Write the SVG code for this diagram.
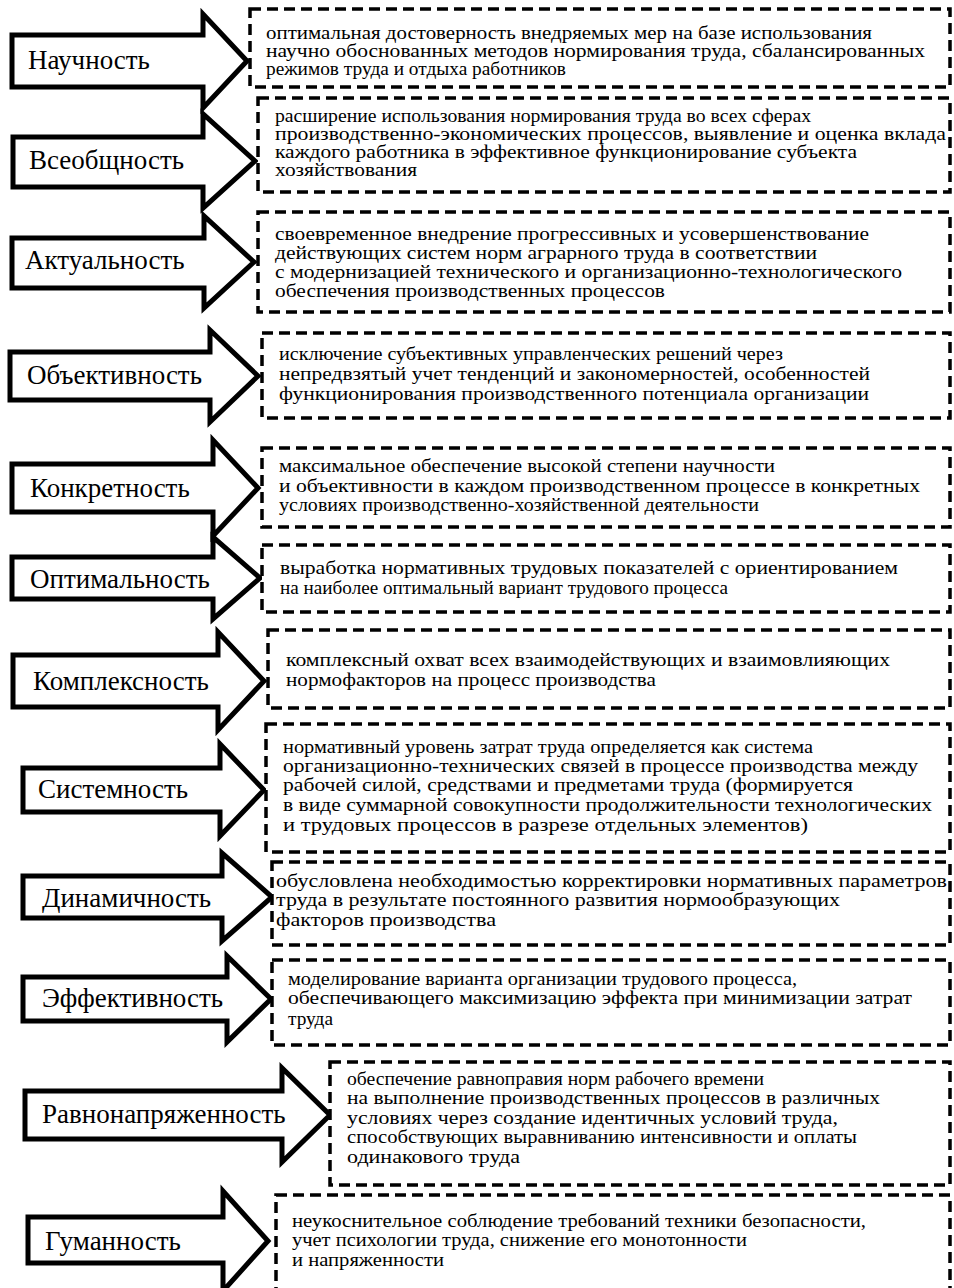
<svg xmlns="http://www.w3.org/2000/svg" width="954" height="1288" viewBox="0 0 954 1288">
<style>
.arrow{fill:#fff;stroke:#000;stroke-width:5;stroke-linejoin:miter;stroke-miterlimit:10}
.box{fill:#fff;stroke:#000;stroke-width:3.5;stroke-dasharray:11 6}
.lbl{font-family:"Liberation Serif","Times New Roman",serif;font-size:27px;fill:#000}
.txt{font-family:"Liberation Serif","Times New Roman",serif;font-size:18px;fill:#000}
</style>
<rect width="954" height="1288" fill="#fff"/>
<g id="connectors">
<polygon class="arrow" points="12,35 203,35 203,14 247,61 203,108 203,87 12,87"/>
<polygon class="arrow" points="13,137 203,137 203,114 255,161 203,208 203,187 13,187"/>
<polygon class="arrow" points="12,238 204,238 204,216 254,262 204,308 204,288 12,288"/>
<polygon class="arrow" points="10,352 210,352 210,330 258,376 210,422 210,400 10,400"/>
<polygon class="arrow" points="12,464 213,464 213,440 258,488 213,536 213,512 12,512"/>
<polygon class="arrow" points="12,557 213,557 213,537 260,578 213,619 213,599 12,599"/>
<polygon class="arrow" points="13,655 218,655 218,632 264,681 218,730 218,707 13,707"/>
<polygon class="arrow" points="23,768 220,768 220,744 264,790 220,836 220,812 23,812"/>
<polygon class="arrow" points="23,876 222,876 222,853 272,897 222,941 222,918 23,918"/>
<polygon class="arrow" points="23,977 227,977 227,956 271,999 227,1042 227,1021 23,1021"/>
<polygon class="arrow" points="25,1091 282,1091 282,1068 330,1115 282,1162 282,1139 25,1139"/>
<polygon class="arrow" points="28,1217 223,1217 223,1191 268,1241 223,1291 223,1263 28,1263"/>
</g>
<g id="n1"><text class="lbl" x="28" y="69">Научность</text>
<rect class="box" x="250" y="9" width="700" height="78"/>
<text class="txt" x="266" y="39" textLength="606" lengthAdjust="spacingAndGlyphs">оптимальная достоверность внедряемых мер на базе использования</text>
<text class="txt" x="266" y="57" textLength="659" lengthAdjust="spacingAndGlyphs">научно обоснованных методов нормирования труда, сбалансированных</text>
<text class="txt" x="266" y="75" textLength="300" lengthAdjust="spacingAndGlyphs">режимов труда и отдыха работников</text></g>
<g id="n2"><text class="lbl" x="29" y="169">Всеобщность</text>
<rect class="box" x="258" y="98" width="692" height="94"/>
<text class="txt" x="275" y="122" textLength="536" lengthAdjust="spacingAndGlyphs">расширение использования нормирования труда во всех сферах</text>
<text class="txt" x="275" y="140" textLength="671" lengthAdjust="spacingAndGlyphs">производственно-экономических процессов, выявление и оценка вклада</text>
<text class="txt" x="275" y="158" textLength="582" lengthAdjust="spacingAndGlyphs">каждого работника в эффективное функционирование субъекта</text>
<text class="txt" x="275" y="176" textLength="142" lengthAdjust="spacingAndGlyphs">хозяйствования</text></g>
<g id="n3"><text class="lbl" x="25" y="269">Актуальность</text>
<rect class="box" x="258" y="212" width="692" height="100"/>
<text class="txt" x="275" y="240" textLength="594" lengthAdjust="spacingAndGlyphs">своевременное внедрение прогрессивных и усовершенствование</text>
<text class="txt" x="275" y="259" textLength="542" lengthAdjust="spacingAndGlyphs">действующих систем норм аграрного труда в соответствии</text>
<text class="txt" x="275" y="278" textLength="627" lengthAdjust="spacingAndGlyphs">с модернизацией технического и организационно-технологического</text>
<text class="txt" x="275" y="297" textLength="390" lengthAdjust="spacingAndGlyphs">обеспечения производственных процессов</text></g>
<g id="n4"><text class="lbl" x="27" y="384">Объективность</text>
<rect class="box" x="262" y="333" width="688" height="85"/>
<text class="txt" x="279" y="360" textLength="504" lengthAdjust="spacingAndGlyphs">исключение субъективных управленческих решений через</text>
<text class="txt" x="279" y="380" textLength="591" lengthAdjust="spacingAndGlyphs">непредвзятый учет тенденций и закономерностей, особенностей</text>
<text class="txt" x="279" y="400" textLength="590" lengthAdjust="spacingAndGlyphs">функционирования производственного потенциала организации</text></g>
<g id="n5"><text class="lbl" x="30" y="497">Конкретность</text>
<rect class="box" x="262" y="448" width="688" height="79"/>
<text class="txt" x="279" y="472" textLength="496" lengthAdjust="spacingAndGlyphs">максимальное обеспечение высокой степени научности</text>
<text class="txt" x="279" y="492" textLength="641" lengthAdjust="spacingAndGlyphs">и объективности в каждом производственном процессе в конкретных</text>
<text class="txt" x="279" y="511" textLength="480" lengthAdjust="spacingAndGlyphs">условиях производственно-хозяйственной деятельности</text></g>
<g id="n6"><text class="lbl" x="30" y="588">Оптимальность</text>
<rect class="box" x="262" y="545" width="688" height="67"/>
<text class="txt" x="280" y="574" textLength="618" lengthAdjust="spacingAndGlyphs">выработка нормативных трудовых показателей с ориентированием</text>
<text class="txt" x="280" y="594" textLength="448" lengthAdjust="spacingAndGlyphs">на наиболее оптимальный вариант трудового процесса</text></g>
<g id="n7"><text class="lbl" x="33" y="690">Комплексность</text>
<rect class="box" x="268" y="630" width="682" height="78"/>
<text class="txt" x="286" y="666" textLength="604" lengthAdjust="spacingAndGlyphs">комплексный охват всех взаимодействующих и взаимовлияющих</text>
<text class="txt" x="286" y="686" textLength="370" lengthAdjust="spacingAndGlyphs">нормофакторов на процесс производства</text></g>
<g id="n8"><text class="lbl" x="38" y="798">Системность</text>
<rect class="box" x="266" y="724" width="684" height="128"/>
<text class="txt" x="283" y="753" textLength="530" lengthAdjust="spacingAndGlyphs">нормативный уровень затрат труда определяется как система</text>
<text class="txt" x="283" y="772" textLength="635" lengthAdjust="spacingAndGlyphs">организационно-технических связей в процессе производства между</text>
<text class="txt" x="283" y="791" textLength="570" lengthAdjust="spacingAndGlyphs">рабочей силой, средствами и предметами труда (формируется</text>
<text class="txt" x="283" y="811" textLength="649" lengthAdjust="spacingAndGlyphs">в виде суммарной совокупности продолжительности технологических</text>
<text class="txt" x="283" y="831" textLength="525" lengthAdjust="spacingAndGlyphs">и трудовых процессов в разрезе отдельных элементов)</text></g>
<g id="n9"><text class="lbl" x="42" y="907">Динамичность</text>
<rect class="box" x="272" y="862" width="678" height="83"/>
<text class="txt" x="276" y="887" textLength="671" lengthAdjust="spacingAndGlyphs">обусловлена необходимостью корректировки нормативных параметров</text>
<text class="txt" x="276" y="906" textLength="564" lengthAdjust="spacingAndGlyphs">труда в результате постоянного развития нормообразующих</text>
<text class="txt" x="276" y="926" textLength="220" lengthAdjust="spacingAndGlyphs">факторов производства</text></g>
<g id="n10"><text class="lbl" x="42" y="1007">Эффективность</text>
<rect class="box" x="272" y="960" width="678" height="85"/>
<text class="txt" x="288" y="985" textLength="509" lengthAdjust="spacingAndGlyphs">моделирование варианта организации трудового процесса,</text>
<text class="txt" x="288" y="1004" textLength="624" lengthAdjust="spacingAndGlyphs">обеспечивающего максимизацию эффекта при минимизации затрат</text>
<text class="txt" x="288" y="1025" textLength="45" lengthAdjust="spacingAndGlyphs">труда</text></g>
<g id="n11"><text class="lbl" x="42" y="1123">Равнонапряженность</text>
<rect class="box" x="330" y="1062" width="620" height="123"/>
<text class="txt" x="347" y="1085" textLength="417" lengthAdjust="spacingAndGlyphs">обеспечение равноправия норм рабочего времени</text>
<text class="txt" x="347" y="1104" textLength="533" lengthAdjust="spacingAndGlyphs">на выполнение производственных процессов в различных</text>
<text class="txt" x="347" y="1124" textLength="491" lengthAdjust="spacingAndGlyphs">условиях через создание идентичных условий труда,</text>
<text class="txt" x="347" y="1143" textLength="510" lengthAdjust="spacingAndGlyphs">способствующих выравниванию интенсивности и оплаты</text>
<text class="txt" x="347" y="1163" textLength="173" lengthAdjust="spacingAndGlyphs">одинакового труда</text></g>
<g id="n12"><text class="lbl" x="45" y="1250">Гуманность</text>
<rect class="box" x="276" y="1195" width="674" height="100"/>
<text class="txt" x="292" y="1227" textLength="574" lengthAdjust="spacingAndGlyphs">неукоснительное соблюдение требований техники безопасности,</text>
<text class="txt" x="292" y="1246" textLength="455" lengthAdjust="spacingAndGlyphs">учет психологии труда, снижение его монотонности</text>
<text class="txt" x="292" y="1266" textLength="152" lengthAdjust="spacingAndGlyphs">и напряженности</text></g>
</svg>
